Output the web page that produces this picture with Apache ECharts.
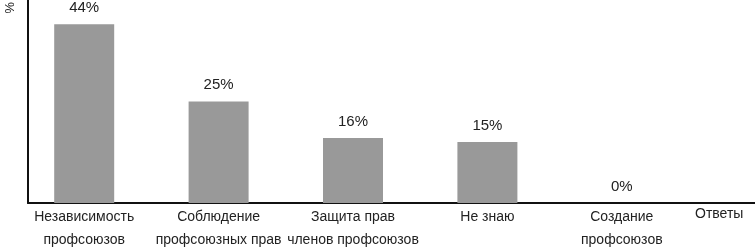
<!DOCTYPE html>
<html>
<head>
<meta charset="utf-8">
<script src="https://cdn.jsdelivr.net/npm/echarts@6/dist/echarts.min.js"></script>
<style>
  html, body { margin: 0; padding: 0; background: #fff; }
  #chart { width: 755px; height: 249px; }
</style>
</head>
<body>
<div id="chart"></div>
<script>
var categories = ['Независимость\nпрофсоюзов', 'Соблюдение\nпрофсоюзных прав', 'Защита прав\nчленов профсоюзов', 'Не знаю', 'Создание\nпрофсоюзов'];
var values = [44, 25, 16, 15, 0];

var font = '"Liberation Sans Narrow", "Liberation Sans", sans-serif';
var myChart = echarts.init(document.getElementById('chart'));

var option = {
    animation: false,
    grid: [
        { left: 28, right: 0, top: 0, bottom: 46, outerBoundsMode: 'none' },
        { left: 17, width: 672, top: 0, bottom: 46, outerBoundsMode: 'none' }
    ],
    graphic: [{
        type: 'text',
        left: 2,
        top: 2,
        rotation: -Math.PI / 2,
        style: { text: '%', font: '13px ' + font, fill: '#222' }
    }],
    xAxis: [
        {
            gridIndex: 0,
            type: 'value',
            min: 0, max: 1,
            name: 'Ответы',
            nameLocation: 'end',
            nameGap: -60,
            nameTextStyle: { fontFamily: font, fontSize: 14, color: '#222', verticalAlign: 'top', padding: [4, 0, 0, 0] },
            axisLine: { show: true, lineStyle: { color: '#111', width: 2 } },
            axisTick: { show: false },
            axisLabel: { show: false },
            splitLine: { show: false }
        },
        {
            gridIndex: 1,
            type: 'category',
            data: categories,
            axisLine: { show: false },
            axisTick: { show: false },
            axisLabel: { fontFamily: font, fontSize: 14, color: '#222', lineHeight: 23, margin: 3, interval: 0 }
        }
    ],
    yAxis: [
        {
            gridIndex: 0,
            type: 'value',
            min: 0, max: 50,
            axisLine: { show: true, lineStyle: { color: '#111', width: 2 } },
            axisTick: { show: false },
            axisLabel: { show: false },
            splitLine: { show: false }
        },
        {
            gridIndex: 1,
            type: 'value',
            min: 0, max: 50,
            show: false
        }
    ],
    series: [{
        type: 'bar',
        xAxisIndex: 1,
        yAxisIndex: 1,
        data: values,
        barWidth: 60,
        itemStyle: { color: '#999999' },
        label: {
            show: true,
            position: 'top',
            distance: 9,
            formatter: '{c}%',
            fontFamily: font,
            fontSize: 15,
            color: '#222'
        }
    }]
};
myChart.setOption(option);
</script>
</body>
</html>
